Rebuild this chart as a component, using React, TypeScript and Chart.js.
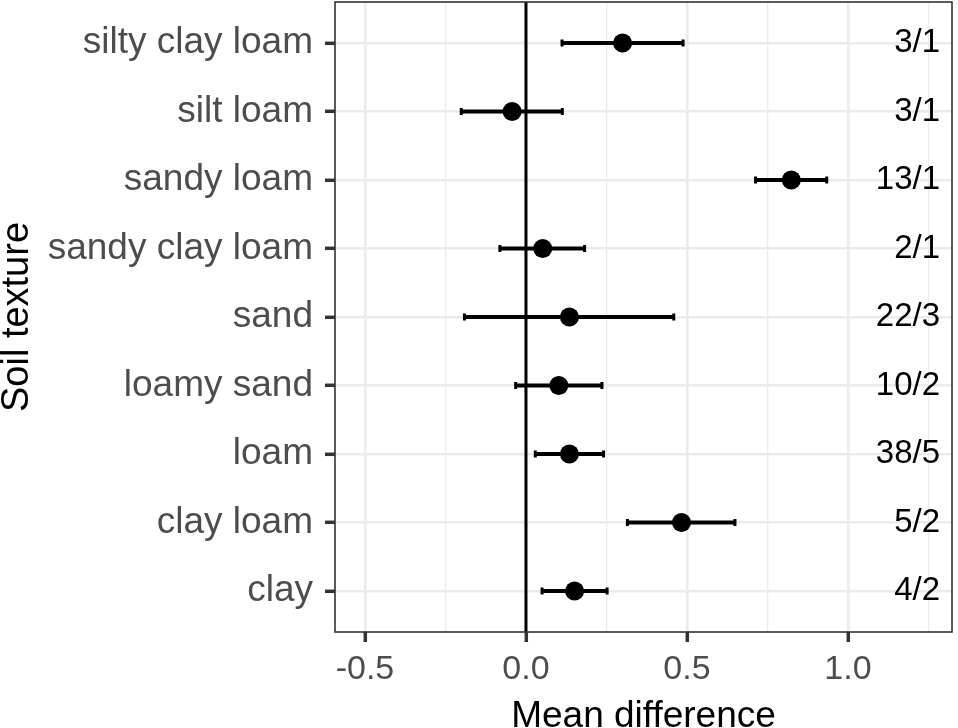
import React, { useEffect, useRef } from 'react';
import { Chart, registerables } from 'chart.js';

Chart.register(...registerables);

// ---- data (top to bottom as shown) ----
const categories = [
  'silty clay loam',
  'silt loam',
  'sandy loam',
  'sandy clay loam',
  'sand',
  'loamy sand',
  'loam',
  'clay loam',
  'clay',
];
const meanDiff = [0.3, -0.043, 0.824, 0.052, 0.135, 0.102, 0.135, 0.483, 0.151];
const lowerCI = [0.112, -0.201, 0.713, -0.081, -0.191, -0.032, 0.029, 0.315, 0.05];
const upperCI = [0.488, 0.113, 0.934, 0.182, 0.459, 0.236, 0.241, 0.649, 0.252];
const countLabels = ['3/1', '3/1', '13/1', '2/1', '22/3', '10/2', '38/5', '5/2', '4/2'];

const xMajorTicks = [-0.5, 0, 0.5, 1.0];
const xMinorTicks = [-0.25, 0.25, 0.75, 1.25];
const xTickLabels = ['-0.5', '0.0', '0.5', '1.0'];

const xTitle = 'Mean difference';
const yTitle = 'Soil texture';

const FONT = "'Liberation Sans', Arial, Helvetica, sans-serif";

const rowPos = (i: number) => categories.length - i;

const isMajor = (v: number) => xMajorTicks.some((m) => Math.abs(m - v) < 1e-9);

const forestPlugin = {
  id: 'forest',
  beforeDatasetsDraw(chart: any) {
    const { ctx, chartArea, scales } = chart;
    const x = scales.x;
    const y = scales.y;
    ctx.save();
    // reference line at 0
    const x0 = x.getPixelForValue(0);
    ctx.strokeStyle = '#000';
    ctx.lineWidth = 3;
    ctx.beginPath();
    ctx.moveTo(x0, chartArea.top);
    ctx.lineTo(x0, chartArea.bottom);
    ctx.stroke();
    // error bars
    categories.forEach((_, i) => {
      const py = y.getPixelForValue(rowPos(i));
      const xl = x.getPixelForValue(lowerCI[i]);
      const xh = x.getPixelForValue(upperCI[i]);
      ctx.lineWidth = 4;
      ctx.beginPath();
      ctx.moveTo(xl, py);
      ctx.lineTo(xh, py);
      ctx.stroke();
      ctx.lineWidth = 3;
      ctx.beginPath();
      ctx.moveTo(xl, py - 3.5);
      ctx.lineTo(xl, py + 3.5);
      ctx.moveTo(xh, py - 3.5);
      ctx.lineTo(xh, py + 3.5);
      ctx.stroke();
    });
    ctx.restore();
  },
  afterDraw(chart: any) {
    const { ctx, chartArea, scales } = chart;
    const y = scales.y;
    ctx.save();
    ctx.strokeStyle = '#333';
    ctx.lineWidth = 1.6;
    ctx.strokeRect(chartArea.left, chartArea.top, chartArea.right - chartArea.left, chartArea.bottom - chartArea.top);
    ctx.fillStyle = '#000';
    ctx.font = `33px ${FONT}`;
    ctx.textAlign = 'right';
    ctx.textBaseline = 'middle';
    countLabels.forEach((lab, i) => {
      ctx.fillText(lab, chartArea.right - 12, y.getPixelForValue(rowPos(i)));
    });
    ctx.restore();
  },
};

export default function App() {
  const canvasRef = useRef<HTMLCanvasElement | null>(null);

  useEffect(() => {
    document.body.style.margin = '0';
    const canvas = canvasRef.current;
    if (!canvas) return;
    const chart = new Chart(canvas, {
      type: 'scatter',
      data: {
        datasets: [
          {
            label: 'Mean difference',
            data: categories.map((_, i) => ({ x: meanDiff[i], y: rowPos(i) })),
            pointRadius: 9.5,
            pointHoverRadius: 9.5,
            backgroundColor: '#000',
            borderWidth: 0,
          },
        ],
      },
      options: {
        animation: false,
        responsive: false,
        maintainAspectRatio: false,
        layout: { autoPadding: false, padding: { top: 2, right: 6, left: 0, bottom: 0 } },
        plugins: {
          legend: { display: false },
          tooltip: { enabled: false },
        },
        scales: {
          x: {
            type: 'linear',
            min: -0.593,
            max: 1.323,
            afterBuildTicks: (scale: any) => {
              scale.ticks = [...xMajorTicks, ...xMinorTicks]
                .sort((a, b) => a - b)
                .map((v) => ({ value: v }));
            },
            afterFit: (scale: any) => {
              scale.height = 96;
              scale.paddingLeft = 0;
              scale.paddingRight = 0;
            },
            border: { display: false },
            grid: {
              color: '#ebebeb',
              lineWidth: (c: any) => (isMajor(c.tick?.value) ? 2.6 : 1.3),
              tickColor: (c: any) => (isMajor(c.tick?.value) ? '#333' : 'rgba(0,0,0,0)'),
              tickLength: 10,
              tickWidth: 3.5,
            },
            ticks: {
              autoSkip: false,
              maxRotation: 0,
              padding: 7,
              color: '#4d4d4d',
              font: { family: FONT, size: 34 },
              callback: (v: any) => {
                const idx = xMajorTicks.findIndex((m) => Math.abs(m - v) < 1e-9);
                return idx >= 0 ? xTickLabels[idx] : '';
              },
            },
            title: {
              display: true,
              text: xTitle,
              color: '#000',
              font: { family: FONT, size: 37 },
              padding: { top: 0, bottom: -11 },
            },
          },
          y: {
            type: 'linear',
            min: 0.4,
            max: categories.length + 0.6,
            afterBuildTicks: (scale: any) => {
              scale.ticks = categories
                .map((_, i) => ({ value: rowPos(i) }))
                .sort((a, b) => a.value - b.value);
            },
            afterFit: (scale: any) => {
              scale.width = 335;
              scale.paddingTop = 0;
              scale.paddingBottom = 0;
            },
            border: { display: false },
            grid: {
              color: '#ebebeb',
              lineWidth: 2.6,
              tickColor: '#333',
              tickLength: 10,
              tickWidth: 3.5,
            },
            ticks: {
              autoSkip: false,
              padding: 12,
              color: '#4d4d4d',
              font: { family: FONT, size: 37 },
              callback: (v: any) => categories[categories.length - Math.round(v)],
            },
            title: {
              display: true,
              text: yTitle,
              color: '#000',
              font: { family: FONT, size: 38 },
              padding: { top: -5, bottom: 0 },
            },
          },
        },
      },
      plugins: [forestPlugin],
    } as any);
    return () => chart.destroy();
  }, []);

  return (
    <div style={{ width: 958, height: 728 }}>
      <canvas ref={canvasRef} width={958} height={728} style={{ display: 'block' }} />
    </div>
  );
}
